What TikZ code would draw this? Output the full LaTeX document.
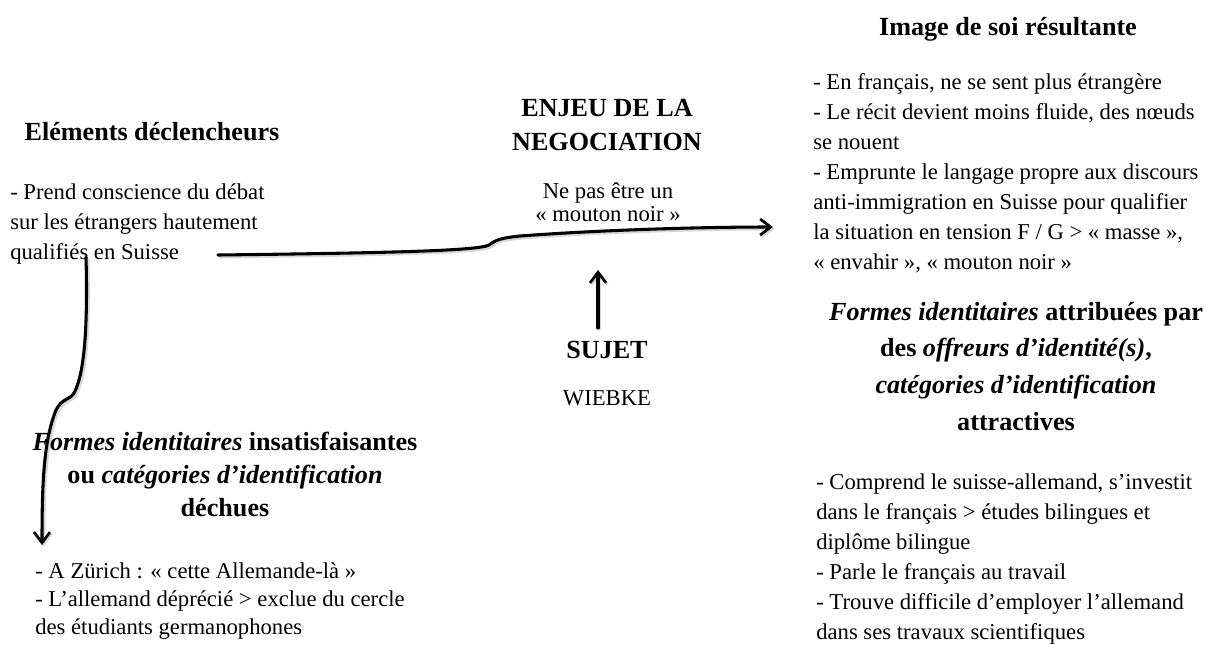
\documentclass[tikz,border=0pt]{standalone}
\usepackage{fontspec}
\setmainfont{Liberation Serif}
\usetikzlibrary{arrows.meta}
\newcommand\lblock[1]{\vtop{\halign{##\hfil\cr#1\crcr}}}
\newcommand\cblock[1]{\vtop{\halign{\hfil##\hfil\cr#1\crcr}}}
\begin{document}
\begin{tikzpicture}[x=0.75pt,y=-0.75pt,
  body/.style={inner sep=0pt, font=\fontsize{17}{22.5}\selectfont},
  head/.style={inner sep=0pt, font=\fontsize{19.6}{25.5}\selectfont\bfseries},
  conn/.style={line width=2.3pt, line cap=round,
    -{Straight Barb[length=8pt,width=12pt,line width=2pt]},
    preaction={draw=black!45, opacity=0.35, line width=2.8pt,
      transform canvas={shift={(1.2pt,-1.2pt)}}}},
]
\useasboundingbox (0,0) rectangle (1206,644);

% left column
\node[head, anchor=base] (elh) at (152,140) {\cblock{Eléments déclencheurs}};
\node[body, anchor=base west] (elb) at (10,199) {\lblock{- Prend conscience du débat\cr
sur les étrangers hautement\cr
qualifiés en Suisse}};

\node[head, anchor=base, font=\fontsize{19.6}{24.75}\selectfont\bfseries] (fih) at (225,450) {\cblock{\textit{Formes identitaires} insatisfaisantes\cr
ou \textit{catégories d’identification}\cr
déchues}};
\node[body, anchor=base west, font=\fontsize{17}{21.25}\selectfont] (fib) at (35,578) {\lblock{- A Zürich : «~cette Allemande-là~»\cr
- L’allemand déprécié > exclue du cercle\cr
des étudiants germanophones}};

% centre column
\node[head, anchor=base] (enh) at (607,116) {\cblock{ENJEU DE LA\cr
NEGOCIATION}};
\node[body, anchor=base, font=\fontsize{17}{17.5}\selectfont] (enb) at (608,198) {\cblock{Ne pas être un\cr
«~mouton noir~»}};
\node[head, anchor=base] (suj) at (607,358) {SUJET};
\node[body, anchor=base] (wie) at (607,405) {WIEBKE};

% right column
\node[head, anchor=base] (imh) at (1008,35) {\cblock{Image de soi résultante}};
\node[body, anchor=base west] (imb) at (813,89) {\lblock{- En français, ne se sent plus étrangère\cr
- Le récit devient moins fluide, des nœuds\cr
se nouent\cr
- Emprunte le langage propre aux discours\cr
anti-immigration en Suisse pour qualifier\cr
la situation en tension F / G > «~masse~»,\cr
«~envahir~», «~mouton noir~»}};

\node[head, anchor=base, font=\fontsize{19.6}{27.5}\selectfont\bfseries] (fah) at (1016,320) {\cblock{\textit{Formes identitaires} attribuées par\cr
des \textit{offreurs d’identité(s)},\cr
\textit{catégories d’identification}\cr
attractives}};
\node[body, anchor=base west] (fab) at (816,489) {\lblock{- Comprend le suisse-allemand, s’investit\cr
dans le français > études bilingues et\cr
diplôme bilingue\cr
- Parle le français au travail\cr
- Trouve difficile d’employer l’allemand\cr
dans ses travaux scientifiques}};

% connector end points
\coordinate (hs) at (218,255);
\coordinate (he) at (773,227);
\coordinate (vs) at (86,257);
\coordinate (ve) at (42,545);
\coordinate (us) at (598,328);
\coordinate (ue) at (598,270);

\draw[conn] (hs) .. controls (380,253) and (478,251) .. (489,245)
  .. controls (496,240) and (500,238) .. (520,236)
  .. controls (600,230) and (700,227) .. (he);
\draw[conn] (vs) .. controls (88,330) and (84,375) .. (74,393)
  .. controls (70,400) and (62,398) .. (56,410)
  .. controls (44,440) and (42,480) .. (ve);
\draw[conn] (us) -- (ue);
\end{tikzpicture}
\end{document}
